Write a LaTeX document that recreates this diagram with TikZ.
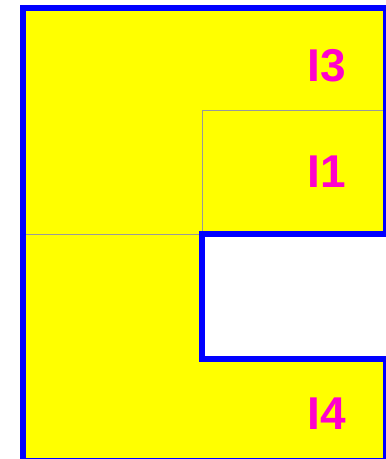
\documentclass[tikz,border=0pt]{standalone}
\usepackage{fontspec}
\setmainfont{Liberation Sans}
\definecolor{labelmag}{RGB}{255,0,204}
\definecolor{bodyyellow}{RGB}{255,255,0}
\definecolor{wallblue}{RGB}{0,0,255}
\tikzset{
  partline/.style={gray!80, line width=0.8pt},
  wallline/.style={wallblue, line width=6pt, line join=miter},
  partlabel/.style={text=labelmag, font=\fontsize{46}{50}\selectfont\bfseries}
}
\begin{document}
\begin{tikzpicture}[x=1pt,y=-1pt]
  \useasboundingbox (0,0) rectangle (386,459);
  % yellow body with the notch on the right
  \fill[bodyyellow] (23,8) -- (386,8) -- (386,234) -- (202,234) -- (202,359) -- (386,359) -- (386,461) -- (23,461) -- cycle;
  % thin lines between the parts
  \draw[partline] (202,110) -- (386,110);
  \draw[partline] (202,110) -- (202,234);
  \draw[partline] (23,234) -- (202,234);
  % outline
  \draw[wallline] (23,461) -- (23,8) -- (386,8) -- (386,234) -- (202,234) -- (202,359) -- (386,359) -- (386,461) -- cycle;
  \node[partlabel] (i3) at (327,66) {I3};
  \node[partlabel] (i1) at (327,172) {I1};
  \node[partlabel] (i4) at (327,414) {I4};
\end{tikzpicture}
\end{document}
